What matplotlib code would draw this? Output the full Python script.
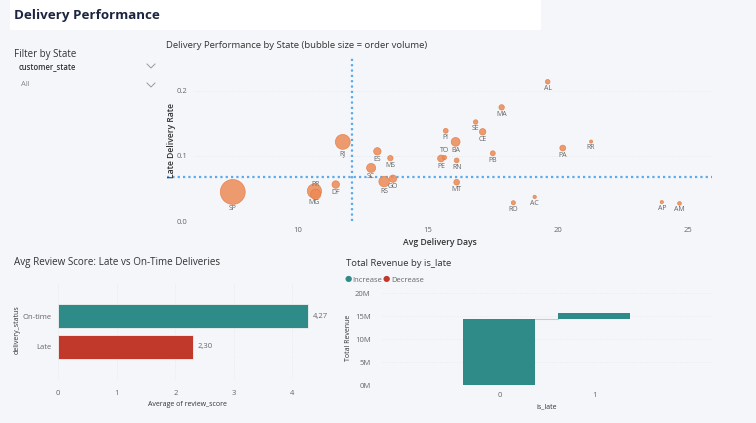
import numpy as np
import matplotlib
matplotlib.use("Agg")
import matplotlib.pyplot as plt
from matplotlib.lines import Line2D
from matplotlib.patches import Rectangle
from matplotlib.ticker import FuncFormatter

plt.rcParams['font.family'] = ['Open Sans', 'DejaVu Sans']

# --- data ---
states = ['SP', 'MG', 'PR', 'DF', 'RJ', 'ES', 'MS', 'SC', 'RS', 'GO', 'PI', 'BA', 'TO', 'PE',
          'RN', 'MT', 'AL', 'MA', 'SE', 'CE', 'PB', 'PA', 'RR', 'RO', 'AC', 'AP', 'AM']
avg_days = [7.49, 10.63, 10.68, 11.45, 11.72, 13.05, 13.55, 12.81, 13.31, 13.65, 15.68, 16.06, 15.63, 15.50,
            16.10, 16.10, 19.60, 17.83, 16.83, 17.10, 17.49, 20.18, 21.27, 18.28, 19.10, 23.99, 24.67]
late_rate = [0.0446, 0.046, 0.041, 0.056, 0.1215, 0.107, 0.0965, 0.0815, 0.0606, 0.065, 0.1385, 0.1215, 0.0975, 0.096,
             0.093, 0.0595, 0.2138, 0.1745, 0.152, 0.137, 0.104, 0.112, 0.122, 0.028, 0.037, 0.029, 0.027]
orders = [41746, 11635, 5045, 2140, 12852, 2033, 715, 3637, 5466, 2020, 495, 3380, 280, 1652,
          485, 907, 413, 747, 350, 1336, 536, 975, 46, 253, 81, 68, 148]
avg_days_ref = 12.08
late_rate_ref = 0.067

status = ['On-time', 'Late']
review_score = [4.27, 2.30]

is_late = ['0', '1']
revenue = [14.36e6, 1.30e6]

W, H = 756, 423
fig = plt.figure(figsize=(W / 100, H / 100), dpi=100, facecolor='#F4F6FA')


def fx(px):
    return px / W


def fy(py):
    return 1 - py / H


def pos(l, t, r, b):
    return [fx(l), fy(b), (r - l) / W, (b - t) / H]


# header box and slicer
fig.add_artist(Rectangle((fx(10), fy(30)), fx(541) - fx(10), 30 / H, transform=fig.transFigure,
                         facecolor='white', edgecolor='none', zorder=0))
fig.text(fx(14), fy(15), 'Delivery Performance', fontsize=9.6, fontweight='bold', color='#1B2440', va='center')
fig.text(fx(14), fy(55), 'Filter by State', fontsize=7, color='#333333', va='center')
fig.text(fx(19), fy(67), 'customer_state', fontsize=5.5, fontweight='semibold', color='#333333', va='center')
fig.text(fx(21), fy(85), 'All', fontsize=5.5, color='#888888', va='center')
for cy in (66, 85):
    fig.add_artist(Line2D([fx(147), fx(151), fx(155)], [fy(cy - 2), fy(cy + 2), fy(cy - 2)],
                          transform=fig.transFigure, color='#999999', lw=0.7))

grey = '#666666'
dark = '#333333'

# --- bubble chart ---
ax = fig.add_axes(pos(167, 58, 712, 221))
ax.set_facecolor('none')
for s in ax.spines.values():
    s.set_visible(False)
days = np.array(avg_days)
rate = np.array(late_rate)
vol = np.array(orders)
r_px = 1.2 + 0.055 * np.sqrt(vol)
order = np.argsort(-vol)
ax.scatter(days[order], rate[order], s=(2 * r_px[order] * 0.72) ** 2, color='#EC8A55', alpha=0.85,
           edgecolors='#E27A42', linewidths=0.5, zorder=3)
label_above = {'PR', 'TO'}
for st, d, rt, r in zip(states, days, rate, r_px):
    off = (r + 4.5) * 0.72
    ax.annotate(st, (d, rt), xytext=(0, off if st in label_above else -off), textcoords='offset points',
                ha='center', va='center', fontsize=5, color=grey, zorder=4)
ax.axvline(avg_days_ref, color='#5DA9E9', lw=1.6, ls=(0, (1, 1.4)), zorder=2)
ax.axhline(late_rate_ref, color='#5DA9E9', lw=1.6, ls=(0, (1, 1.4)), zorder=2)
ax.hlines([0.1, 0.2], 0.05, 1, transform=ax.get_yaxis_transform(), color='#E3E5EA', lw=0.6, ls=(0, (1, 2)), zorder=1)
ax.set_xlim(4.96, 25.92)
ax.set_ylim(0, 0.2503)
ax.set_xticks([10, 15, 20, 25])
ax.set_yticks([0.0, 0.1, 0.2])
ax.yaxis.set_major_formatter(FuncFormatter(lambda v, p: f'{v:.1f}'))
ax.tick_params(axis='both', length=0, labelsize=5.5, labelcolor=grey)
ax.tick_params(axis='y', pad=-7)
for t in ax.get_yticklabels():
    t.set_horizontalalignment('left')
ax.tick_params(axis='x', pad=4)
ax.set_xlabel('Avg Delivery Days', fontsize=6.2, color=dark, fontweight='semibold', labelpad=3)
fig.text(fx(171), fy(140), 'Late Delivery Rate', rotation=90, fontsize=6.2, color=dark, fontweight='semibold',
         ha='center', va='center')
fig.text(fx(166), fy(46), 'Delivery Performance by State (bubble size = order volume)', fontsize=6.8,
         color=dark, va='center')

# --- review score bars ---
ax2 = fig.add_axes(pos(58.3, 283, 315.7, 380))
ax2.set_facecolor('none')
for s in ax2.spines.values():
    s.set_visible(False)
yy = np.arange(len(status))
ax2.barh(yy, review_score, height=0.76, color=['#2E8B87', '#C0392B'], edgecolor='#F2F2F2', linewidth=0.6,
         zorder=3)
for y, v in zip(yy, review_score):
    ax2.text(v + 0.08, y, f'{v:.2f}'.replace('.', ','), fontsize=5.5, color=grey, va='center', ha='left')
ax2.set_ylim(2.08, -1.08)
ax2.set_xlim(0, 4.4)
ax2.set_xticks([0, 1, 2, 3, 4])
ax2.set_yticks(yy)
ax2.set_yticklabels(status)
ax2.grid(axis='x', color='#E3E5EA', lw=0.6, ls=(0, (1, 2)))
ax2.set_axisbelow(True)
ax2.tick_params(axis='both', length=0, labelsize=5.5, labelcolor=grey)
ax2.tick_params(axis='x', pad=7)
ax2.tick_params(axis='y', pad=5)
ax2.set_xlabel('Average of review_score', fontsize=5, color=dark, labelpad=3)
fig.text(fx(16.7), fy(330), 'delivery_status', rotation=90, fontsize=5, color=dark, ha='center', va='center')
fig.text(fx(14), fy(263), 'Avg Review Score: Late vs On-Time Deliveries', fontsize=7.1, color=dark, va='center')

# --- revenue waterfall ---
ax3 = fig.add_axes(pos(381.7, 293.3, 712, 385))
ax3.set_facecolor('none')
for s in ax3.spines.values():
    s.set_visible(False)
xs = np.arange(len(is_late))
bottoms = np.concatenate([[0], np.cumsum(revenue)[:-1]])
ax3.bar(xs, revenue, bottom=bottoms, width=0.76, color='#2E8B87', zorder=3)
for i in range(len(xs) - 1):
    top = bottoms[i] + revenue[i]
    ax3.plot([xs[i] + 0.38, xs[i + 1] - 0.38], [top, top], color='#C8CCD2', lw=0.8, zorder=2)
ax3.set_xlim(-1.24, 2.24)
ax3.set_ylim(0, 20e6)
ax3.set_xticks(xs)
ax3.set_xticklabels(is_late)
ax3.set_yticks([0, 5e6, 10e6, 15e6, 20e6])
ax3.yaxis.set_major_formatter(FuncFormatter(lambda v, p: f'{v / 1e6:.0f}M'))
ax3.grid(axis='y', color='#E3E5EA', lw=0.6, ls=(0, (1, 2)))
ax3.set_axisbelow(True)
ax3.tick_params(axis='both', length=0, labelsize=5.5, labelcolor=grey)
ax3.tick_params(axis='x', pad=5)
ax3.tick_params(axis='y', pad=8)
ax3.set_xlabel('is_late', fontsize=5, color=dark, labelpad=3)
fig.text(fx(348.3), fy(338), 'Total Revenue', rotation=90, fontsize=5, color=dark, ha='center', va='center')
fig.text(fx(346), fy(263), 'Total Revenue by is_late', fontsize=6.8, color=dark, va='center')
fig.text(fx(344.5), fy(280), '\u25cf', fontsize=6, color='#2E8B87', va='center')
fig.text(fx(352.5), fy(280), 'Increase', fontsize=5.5, color=grey, va='center')
fig.text(fx(383), fy(280), '\u25cf', fontsize=6, color='#C0392B', va='center')
fig.text(fx(391), fy(280), 'Decrease', fontsize=5.5, color=grey, va='center')

fig.savefig('out.png', dpi=100, facecolor=fig.get_facecolor())
